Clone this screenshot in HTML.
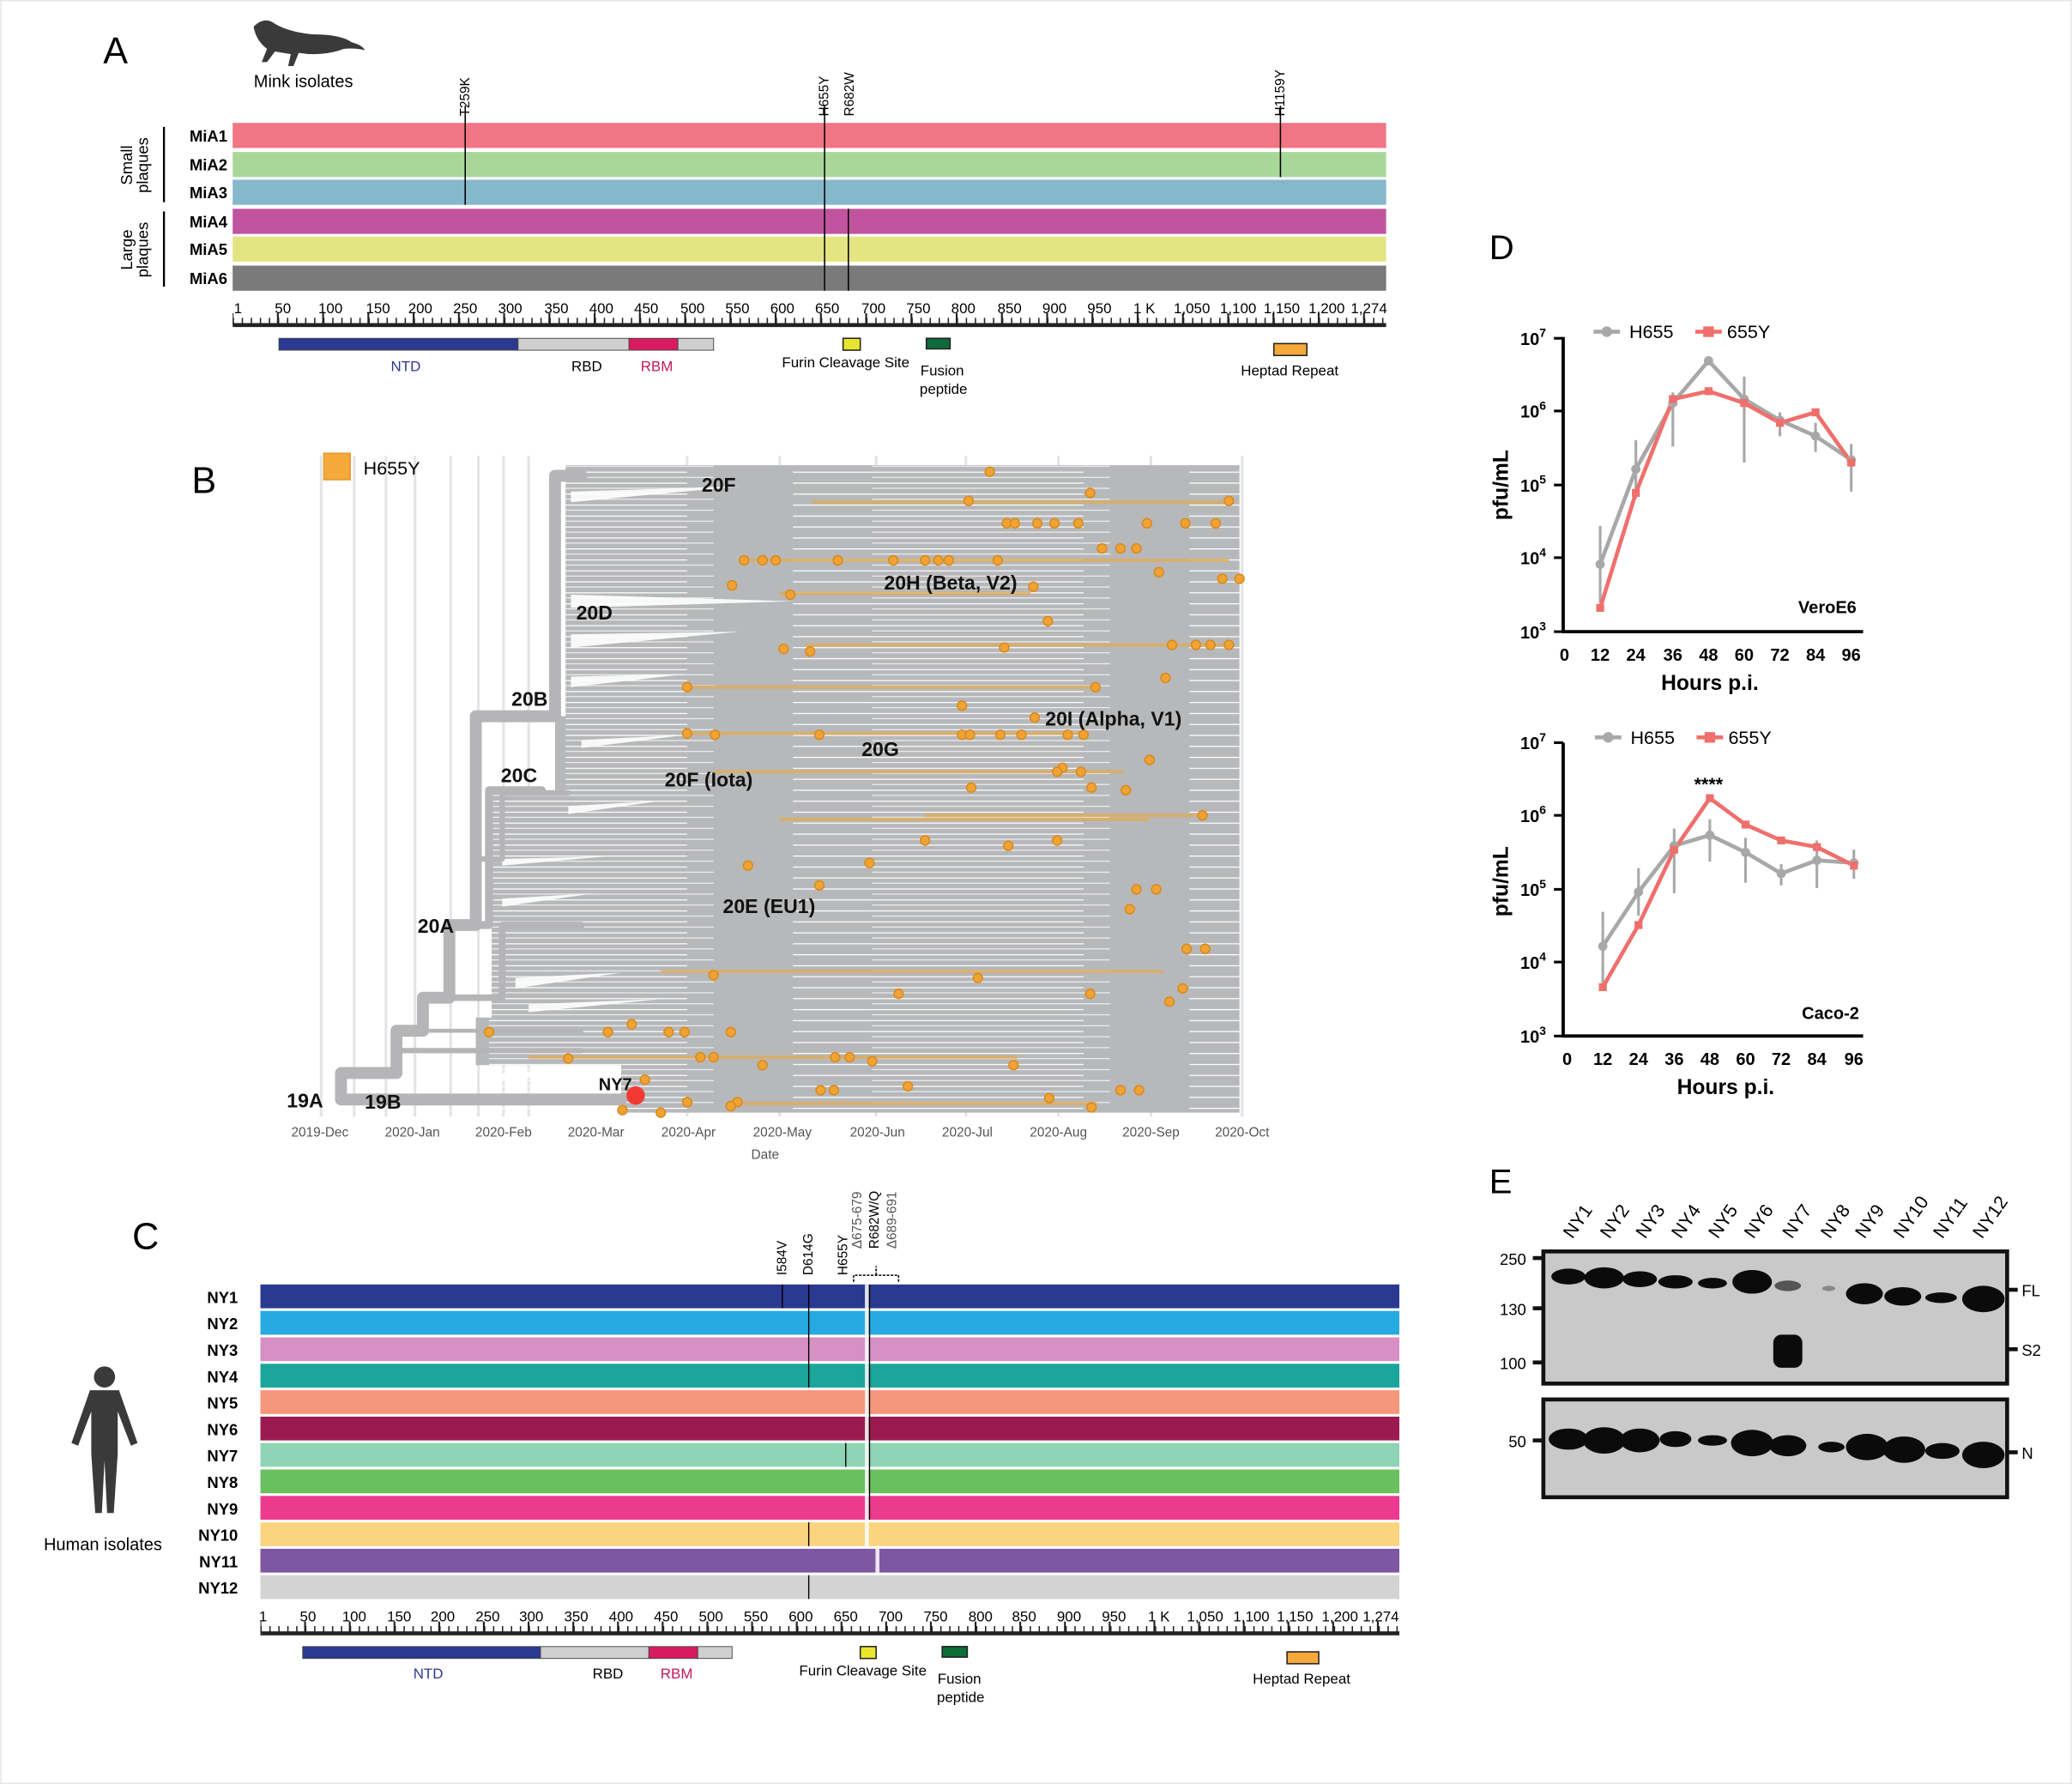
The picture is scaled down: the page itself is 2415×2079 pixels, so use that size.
<!DOCTYPE html>
<html><head><meta charset="utf-8"><style>html,body{margin:0;padding:0;background:#fff}svg{display:block}text{font-family:"Liberation Sans",sans-serif}</style></head><body>
<svg width="2415" height="2079" viewBox="0 0 1568 1350" xmlns="http://www.w3.org/2000/svg">
<defs>
<pattern id="wl" width="300" height="8.3" patternUnits="userSpaceOnUse"><rect x="0" y="0" width="220" height=".8" fill="#fff"/><rect x="60" y="4" width="180" height=".6" fill="#fff"/></pattern>
<linearGradient id="fade" x1="0" x2="1" y1="0" y2="0"><stop offset="0" stop-color="#fff" stop-opacity="1"/><stop offset="1" stop-color="#fff" stop-opacity="0"/></linearGradient>
</defs>
<rect width="1568" height="1350" fill="#fff"/>
<rect x="0.5" y="0.5" width="1567" height="1349" fill="none" stroke="#e6e6e6"/>

<!-- Panel A -->
<text x="78" y="48" font-size="28">A</text>
<path d="M192 20 q8 -8 16 -2 q10 6 28 8 q22 0 30 6 q8 2 10 6 q-8 -2 -16 -1 q-16 6 -34 3 l-4 10 l-4 0 l2 -9 l-12 -2 l-6 8 l-4 0 l4 -10 q-8 -6 -10 -16z" fill="#3a3a3a"/>
<text x="192" y="66" font-size="13">Mink isolates</text>
<g font-size="11">
<rect x="176" y="93" width="873" height="19" fill="#f07585"/>
<rect x="176" y="115" width="873" height="19" fill="#a9d79a"/>
<rect x="176" y="136" width="873" height="19" fill="#86b8cb"/>
<rect x="176" y="158" width="873" height="19" fill="#c1549e"/>
<rect x="176" y="179" width="873" height="19" fill="#e3e583"/>
<rect x="176" y="201" width="873" height="19" fill="#7a7a7a"/>
</g>
<g font-size="12" font-weight="bold" text-anchor="end">
<text x="172" y="107">MiA1</text><text x="172" y="129">MiA2</text><text x="172" y="150">MiA3</text>
<text x="172" y="172">MiA4</text><text x="172" y="193">MiA5</text><text x="172" y="215">MiA6</text>
</g>
<line x1="124" y1="96" x2="124" y2="153" stroke="#000" stroke-width="1.5"/>
<line x1="124" y1="160" x2="124" y2="217" stroke="#000" stroke-width="1.5"/>
<text transform="translate(100,125) rotate(-90)" font-size="12" text-anchor="middle">Small</text>
<text transform="translate(112,125) rotate(-90)" font-size="12" text-anchor="middle">plaques</text>
<text transform="translate(100,189) rotate(-90)" font-size="12" text-anchor="middle">Large</text>
<text transform="translate(112,189) rotate(-90)" font-size="12" text-anchor="middle">plaques</text>
<g stroke="#000" stroke-width="1">
<line x1="352" y1="80" x2="352" y2="155"/>
<line x1="624" y1="80" x2="624" y2="220"/>
<line x1="642" y1="158" x2="642" y2="220"/>
<line x1="969" y1="80" x2="969" y2="134"/>
</g>
<g font-size="10">
<text transform="translate(355,88) rotate(-90)">T259K</text>
<text transform="translate(627,88) rotate(-90)">H655Y</text>
<text transform="translate(646,88) rotate(-90)">R682W</text>
<text transform="translate(972,88) rotate(-90)">H1159Y</text>
</g>
<line x1="176" y1="246" x2="1049" y2="246" stroke="#222" stroke-width="3"/>
<line x1="176" y1="243" x2="1049" y2="243" stroke="#222" stroke-width="5" stroke-dasharray="1 5.85"/>
<line x1="176" y1="241" x2="1049" y2="241" stroke="#222" stroke-width="8" stroke-dasharray="1.4 32.85" stroke-dashoffset="-33.5"/>
<g font-size="11" text-anchor="middle">
<text x="180" y="237">1</text><text x="214" y="237">50</text><text x="250" y="237">100</text><text x="286" y="237">150</text><text x="318" y="237">200</text><text x="352" y="237">250</text><text x="386" y="237">300</text><text x="421" y="237">350</text><text x="455" y="237">400</text><text x="489" y="237">450</text><text x="524" y="237">500</text><text x="558" y="237">550</text><text x="592" y="237">600</text><text x="626" y="237">650</text><text x="661" y="237">700</text><text x="695" y="237">750</text><text x="729" y="237">800</text><text x="764" y="237">850</text><text x="798" y="237">900</text><text x="832" y="237">950</text><text x="866" y="237">1 K</text><text x="902" y="237">1,050</text><text x="937" y="237">1,100</text><text x="970" y="237">1,150</text><text x="1004" y="237">1,200</text><text x="1036" y="237">1,274</text>
</g>
<rect x="211" y="256" width="181" height="9" fill="#2b3990" stroke="#444" stroke-width=".6"/>
<rect x="392" y="256" width="84" height="9" fill="#cfcfcf" stroke="#444" stroke-width=".6"/>
<rect x="476" y="256" width="37" height="9" fill="#d81b60" stroke="#444" stroke-width=".6"/>
<rect x="513" y="256" width="27" height="9" fill="#cfcfcf" stroke="#444" stroke-width=".6"/>
<rect x="638" y="256" width="13" height="9" fill="#e9e52e" stroke="#222"/>
<rect x="701" y="256" width="18" height="8" fill="#0e6b3a" stroke="#222"/>
<rect x="964" y="260" width="25" height="9" fill="#f6a93b" stroke="#222"/>
<g font-size="11" text-anchor="middle">
<text x="307" y="281" fill="#2b3990">NTD</text><text x="444" y="281">RBD</text><text x="497" y="281" fill="#c2185b">RBM</text>
<text x="640" y="278">Furin Cleavage Site</text><text x="713" y="284">Fusion</text><text x="714" y="298">peptide</text><text x="976" y="284">Heptad Repeat</text>
</g>

<!-- Panel B -->
<text x="145" y="373" font-size="28">B</text>
<g stroke="#e4e4e4" stroke-width="2">
<line x1="243" y1="345" x2="243" y2="845"/><line x1="268" y1="345" x2="268" y2="845"/><line x1="292" y1="345" x2="292" y2="845"/><line x1="314" y1="345" x2="314" y2="845"/><line x1="341" y1="345" x2="341" y2="845"/><line x1="362" y1="345" x2="362" y2="845"/><line x1="381" y1="345" x2="381" y2="845"/><line x1="400" y1="345" x2="400" y2="845"/>
<line x1="520" y1="345" x2="520" y2="845"/><line x1="590" y1="345" x2="590" y2="845"/><line x1="663" y1="345" x2="663" y2="845"/><line x1="731" y1="345" x2="731" y2="845"/><line x1="801" y1="345" x2="801" y2="845"/><line x1="871" y1="345" x2="871" y2="845"/><line x1="940" y1="345" x2="940" y2="845"/>
</g>
<rect x="245" y="343" width="20" height="20" fill="#f6a93b" stroke="#e59a2a"/>
<text x="275" y="359" font-size="14">H655Y</text>
<path d="M428 352 L938 352 L938 842 L470 842 L470 806 L360 806 L360 770 L372 770 L372 600 L420 600 L420 542 L428 542 Z" fill="#b7b8ba"/>
<path d="M428 352 L938 352 L938 842 L370 842 L370 600 L428 600 Z" fill="url(#wl)" transform="translate(0,0)"/>
<g fill="#fff" opacity=".9">
<path d="M432 372 L560 368 L432 380 Z"/><path d="M432 450 L600 455 L432 460 Z"/><path d="M432 480 L560 478 L432 490 Z"/><path d="M432 512 L520 510 L432 520 Z"/><path d="M440 560 L520 556 L440 566 Z"/><path d="M430 610 L500 606 L430 616 Z"/><path d="M380 650 L460 648 L380 655 Z"/><path d="M380 680 L450 676 L380 686 Z"/><path d="M390 740 L470 736 L390 748 Z"/><path d="M400 760 L500 756 L400 766 Z"/><path d="M380 812 L470 808 L380 818 Z"/>
</g>
<g fill="none" stroke="#b5b5b7" stroke-linecap="round" stroke-linejoin="round">
<path d="M258 832 L258 812 L300 812 L300 780 L320 780 L320 755 L340 755 L340 700 L360 700 L360 542 L420 542 L420 360 L440 360" stroke-width="9"/>
<path d="M258 832 L470 832" stroke-width="9"/>
<path d="M360 700 L370 700 L370 598 L410 598" stroke-width="6"/>
<path d="M340 755 L380 755 L380 700 L440 700" stroke-width="5"/>
<path d="M300 795 L440 795" stroke-width="4"/>
<path d="M320 780 L440 780" stroke-width="3"/>
<path d="M360 650 L380 650 L380 600 L430 600" stroke-width="4"/>
</g>
<g stroke="#e0ac5c" stroke-width="2.5" opacity=".8">
<line x1="615" y1="380" x2="930" y2="380"/><line x1="560" y1="424" x2="930" y2="424"/><line x1="590" y1="449" x2="780" y2="449"/><line x1="610" y1="488" x2="930" y2="488"/><line x1="520" y1="520" x2="830" y2="520"/><line x1="520" y1="555" x2="820" y2="555"/><line x1="590" y1="620" x2="870" y2="620"/><line x1="540" y1="584" x2="850" y2="584"/><line x1="700" y1="617" x2="910" y2="617"/><line x1="500" y1="735" x2="880" y2="735"/><line x1="400" y1="800" x2="770" y2="800"/><line x1="550" y1="835" x2="830" y2="835"/>
</g>
<g fill="#f0a335" stroke="#d98a1e" stroke-width="1">
<circle cx="749" cy="357" r="3.5"/><circle cx="825" cy="373" r="3.5"/><circle cx="733" cy="379" r="3.5"/><circle cx="930" cy="379" r="3.5"/>
<circle cx="762" cy="396" r="3.5"/><circle cx="768" cy="396" r="3.5"/><circle cx="785" cy="396" r="3.5"/><circle cx="798" cy="396" r="3.5"/><circle cx="816" cy="396" r="3.5"/><circle cx="868" cy="396" r="3.5"/><circle cx="897" cy="396" r="3.5"/><circle cx="920" cy="396" r="3.5"/>
<circle cx="834" cy="415" r="3.5"/><circle cx="848" cy="415" r="3.5"/><circle cx="860" cy="415" r="3.5"/>
<circle cx="563" cy="424" r="3.5"/><circle cx="577" cy="424" r="3.5"/><circle cx="587" cy="424" r="3.5"/><circle cx="634" cy="424" r="3.5"/><circle cx="676" cy="424" r="3.5"/><circle cx="700" cy="424" r="3.5"/><circle cx="710" cy="424" r="3.5"/><circle cx="718" cy="424" r="3.5"/><circle cx="755" cy="424" r="3.5"/><circle cx="877" cy="433" r="3.5"/><circle cx="925" cy="438" r="3.5"/><circle cx="938" cy="438" r="3.5"/>
<circle cx="554" cy="443" r="3.5"/><circle cx="598" cy="450" r="3.5"/><circle cx="782" cy="444" r="3.5"/>
<circle cx="793" cy="470" r="3.5"/><circle cx="887" cy="488" r="3.5"/><circle cx="905" cy="488" r="3.5"/><circle cx="916" cy="488" r="3.5"/><circle cx="930" cy="488" r="3.5"/>
<circle cx="593" cy="491" r="3.5"/><circle cx="613" cy="493" r="3.5"/><circle cx="760" cy="490" r="3.5"/><circle cx="882" cy="513" r="3.5"/><circle cx="520" cy="520" r="3.5"/><circle cx="829" cy="520" r="3.5"/>
<circle cx="728" cy="534" r="3.5"/><circle cx="783" cy="543" r="3.5"/><circle cx="520" cy="555" r="3.5"/><circle cx="541" cy="556" r="3.5"/><circle cx="620" cy="556" r="3.5"/><circle cx="728" cy="556" r="3.5"/><circle cx="734" cy="556" r="3.5"/><circle cx="757" cy="556" r="3.5"/><circle cx="773" cy="556" r="3.5"/><circle cx="808" cy="556" r="3.5"/><circle cx="820" cy="556" r="3.5"/>
<circle cx="804" cy="581" r="3.5"/><circle cx="870" cy="575" r="3.5"/><circle cx="800" cy="584" r="3.5"/><circle cx="818" cy="584" r="3.5"/><circle cx="735" cy="596" r="3.5"/><circle cx="826" cy="596" r="3.5"/><circle cx="852" cy="598" r="3.5"/>
<circle cx="910" cy="617" r="3.5"/><circle cx="700" cy="636" r="3.5"/><circle cx="763" cy="640" r="3.5"/><circle cx="800" cy="636" r="3.5"/><circle cx="566" cy="655" r="3.5"/><circle cx="658" cy="653" r="3.5"/>
<circle cx="620" cy="670" r="3.5"/><circle cx="860" cy="673" r="3.5"/><circle cx="875" cy="673" r="3.5"/><circle cx="855" cy="688" r="3.5"/>
<circle cx="898" cy="718" r="3.5"/><circle cx="912" cy="718" r="3.5"/><circle cx="740" cy="740" r="3.5"/><circle cx="540" cy="738" r="3.5"/><circle cx="680" cy="752" r="3.5"/><circle cx="825" cy="752" r="3.5"/><circle cx="895" cy="748" r="3.5"/><circle cx="885" cy="758" r="3.5"/>
<circle cx="370" cy="781" r="3.5"/><circle cx="478" cy="775" r="3.5"/><circle cx="460" cy="781" r="3.5"/><circle cx="506" cy="781" r="3.5"/><circle cx="518" cy="781" r="3.5"/><circle cx="553" cy="781" r="3.5"/>
<circle cx="430" cy="801" r="3.5"/><circle cx="530" cy="800" r="3.5"/><circle cx="540" cy="800" r="3.5"/><circle cx="577" cy="806" r="3.5"/><circle cx="632" cy="800" r="3.5"/><circle cx="643" cy="800" r="3.5"/><circle cx="660" cy="803" r="3.5"/><circle cx="767" cy="806" r="3.5"/>
<circle cx="488" cy="817" r="3.5"/><circle cx="621" cy="825" r="3.5"/><circle cx="631" cy="825" r="3.5"/><circle cx="687" cy="822" r="3.5"/><circle cx="794" cy="831" r="3.5"/><circle cx="848" cy="825" r="3.5"/><circle cx="862" cy="825" r="3.5"/>
<circle cx="520" cy="834" r="3.5"/><circle cx="558" cy="834" r="3.5"/><circle cx="471" cy="840" r="3.5"/><circle cx="500" cy="842" r="3.5"/><circle cx="553" cy="837" r="3.5"/><circle cx="826" cy="838" r="3.5"/>
</g>
<circle cx="481" cy="829" r="7" fill="#f03a33"/>
<g font-size="15" font-weight="bold" fill="#111">
<text x="531" y="372">20F</text><text x="669" y="446">20H (Beta, V2)</text><text x="436" y="469">20D</text><text x="387" y="534">20B</text><text x="791" y="549">20I (Alpha, V1)</text><text x="652" y="572">20G</text><text x="379" y="592">20C</text><text x="503" y="595">20F (Iota)</text><text x="547" y="691">20E (EU1)</text><text x="316" y="706">20A</text><text x="453" y="825" font-size="13">NY7</text><text x="217" y="838">19A</text><text x="276" y="839">19B</text>
</g>
<g font-size="10" fill="#555" text-anchor="middle">
<text x="242" y="860">2019-Dec</text><text x="312" y="860">2020-Jan</text><text x="381" y="860">2020-Feb</text><text x="451" y="860">2020-Mar</text><text x="521" y="860">2020-Apr</text><text x="592" y="860">2020-May</text><text x="664" y="860">2020-Jun</text><text x="732" y="860">2020-Jul</text><text x="801" y="860">2020-Aug</text><text x="871" y="860">2020-Sep</text><text x="940" y="860">2020-Oct</text>
<text x="579" y="877">Date</text>
</g>

<!-- Panel C -->
<text x="100" y="945" font-size="28">C</text>
<g>
<rect x="197" y="972" width="862" height="18" fill="#2b3990"/>
<rect x="197" y="992" width="862" height="18" fill="#27aae1"/>
<rect x="197" y="1012" width="862" height="18" fill="#d690c4"/>
<rect x="197" y="1032" width="862" height="18" fill="#1aa69a"/>
<rect x="197" y="1052" width="862" height="18" fill="#f4977b"/>
<rect x="197" y="1072" width="862" height="18" fill="#9b1b50"/>
<rect x="197" y="1092" width="862" height="18" fill="#8fd4b4"/>
<rect x="197" y="1112" width="862" height="18" fill="#6abf5e"/>
<rect x="197" y="1132" width="862" height="18" fill="#ec3b8f"/>
<rect x="197" y="1152" width="862" height="18" fill="#fbd480"/>
<rect x="197" y="1172" width="862" height="18" fill="#7e57a3"/>
<rect x="197" y="1192" width="862" height="18" fill="#d3d3d3"/>
</g>
<g stroke="#fff" stroke-width="3" opacity=".85">
<line x1="656" y1="972" x2="656" y2="1170"/>
<line x1="664" y1="1172" x2="664" y2="1190"/>
</g>
<g stroke="#000" stroke-width=".9">
<line x1="592" y1="972" x2="592" y2="990"/>
<line x1="612" y1="972" x2="612" y2="1050"/><line x1="612" y1="1152" x2="612" y2="1170"/><line x1="612" y1="1192" x2="612" y2="1210"/>
<line x1="640" y1="1092" x2="640" y2="1110"/>
<line x1="658" y1="972" x2="658" y2="1150"/>
</g>
<g font-size="12" font-weight="bold" text-anchor="end">
<text x="180" y="986">NY1</text><text x="180" y="1006">NY2</text><text x="180" y="1026">NY3</text><text x="180" y="1046">NY4</text><text x="180" y="1066">NY5</text><text x="180" y="1086">NY6</text><text x="180" y="1106">NY7</text><text x="180" y="1126">NY8</text><text x="180" y="1146">NY9</text><text x="180" y="1166">NY10</text><text x="180" y="1186">NY11</text><text x="180" y="1206">NY12</text>
</g>
<g font-size="10">
<text transform="translate(595,965) rotate(-90)">I584V</text>
<text transform="translate(615,965) rotate(-90)">D614G</text>
<text transform="translate(641,965) rotate(-90)">H655Y</text>
<text transform="translate(652,945) rotate(-90)" fill="#555">Δ675-679</text>
<text transform="translate(665,945) rotate(-90)">R682W/Q</text>
<text transform="translate(678,945) rotate(-90)" fill="#555">Δ689-691</text>
</g>
<path d="M646 970 L646 965 L680 965 L680 970 M663 965 L663 958" stroke="#000" fill="none" stroke-dasharray="2 1"/>
<g fill="#3a3a3a">
<circle cx="79" cy="1042" r="8"/>
<path d="M68 1052 L90 1052 L104 1092 L99 1094 L89 1068 L89 1100 L86 1145 L81 1145 L79 1105 L77 1145 L72 1145 L69 1100 L69 1068 L59 1094 L54 1092 Z"/>
</g>
<text x="33" y="1173" font-size="13">Human isolates</text>
<line x1="197" y1="1236" x2="1059" y2="1236" stroke="#222" stroke-width="3"/>
<line x1="197" y1="1233" x2="1059" y2="1233" stroke="#222" stroke-width="5" stroke-dasharray="1 5.77"/>
<line x1="197" y1="1231" x2="1059" y2="1231" stroke="#222" stroke-width="8" stroke-dasharray="1.4 32.43" stroke-dashoffset="-33.1"/>
<g font-size="11" text-anchor="middle">
<text x="199" y="1227">1</text><text x="233" y="1227">50</text><text x="268" y="1227">100</text><text x="302" y="1227">150</text><text x="335" y="1227">200</text><text x="369" y="1227">250</text><text x="402" y="1227">300</text><text x="436" y="1227">350</text><text x="470" y="1227">400</text><text x="504" y="1227">450</text><text x="538" y="1227">500</text><text x="572" y="1227">550</text><text x="606" y="1227">600</text><text x="640" y="1227">650</text><text x="674" y="1227">700</text><text x="708" y="1227">750</text><text x="742" y="1227">800</text><text x="775" y="1227">850</text><text x="809" y="1227">900</text><text x="843" y="1227">950</text><text x="877" y="1227">1 K</text><text x="912" y="1227">1,050</text><text x="947" y="1227">1,100</text><text x="980" y="1227">1,150</text><text x="1014" y="1227">1,200</text><text x="1045" y="1227">1,274</text>
</g>
<rect x="229" y="1246" width="180" height="9" fill="#2b3990" stroke="#444" stroke-width=".6"/>
<rect x="409" y="1246" width="82" height="9" fill="#cfcfcf" stroke="#444" stroke-width=".6"/>
<rect x="491" y="1246" width="37" height="9" fill="#d81b60" stroke="#444" stroke-width=".6"/>
<rect x="528" y="1246" width="26" height="9" fill="#cfcfcf" stroke="#444" stroke-width=".6"/>
<rect x="651" y="1246" width="12" height="9" fill="#e9e52e" stroke="#222"/>
<rect x="713" y="1246" width="19" height="8" fill="#0e6b3a" stroke="#222"/>
<rect x="974" y="1250" width="24" height="9" fill="#f6a93b" stroke="#222"/>
<g font-size="11" text-anchor="middle">
<text x="324" y="1270" fill="#2b3990">NTD</text><text x="460" y="1270">RBD</text><text x="512" y="1270" fill="#c2185b">RBM</text>
<text x="653" y="1268">Furin Cleavage Site</text><text x="726" y="1274">Fusion</text><text x="727" y="1288">peptide</text><text x="985" y="1274">Heptad Repeat</text>
</g>

<!-- Panel D -->
<text x="1127" y="196" font-size="26">D</text>
<g>
<line x1="1183" y1="255" x2="1183" y2="479" stroke="#000" stroke-width="2.5"/>
<line x1="1182" y1="478" x2="1410" y2="478" stroke="#000" stroke-width="2.5"/>
<g stroke="#000" stroke-width="2"><line x1="1176" y1="256" x2="1183" y2="256"/><line x1="1176" y1="311" x2="1183" y2="311"/><line x1="1176" y1="367" x2="1183" y2="367"/><line x1="1176" y1="422" x2="1183" y2="422"/><line x1="1176" y1="478" x2="1183" y2="478"/></g>
<g font-size="13" font-weight="bold" text-anchor="end"><text x="1170" y="261">10<tspan font-size="9" dy="-6">7</tspan></text><text x="1170" y="316">10<tspan font-size="9" dy="-6">6</tspan></text><text x="1170" y="372">10<tspan font-size="9" dy="-6">5</tspan></text><text x="1170" y="427">10<tspan font-size="9" dy="-6">4</tspan></text><text x="1170" y="483">10<tspan font-size="9" dy="-6">3</tspan></text></g>
<g font-size="13" font-weight="bold" text-anchor="middle"><text x="1184" y="500">0</text><text x="1211" y="500">12</text><text x="1238" y="500">24</text><text x="1266" y="500">36</text><text x="1293" y="500">48</text><text x="1320" y="500">60</text><text x="1347" y="500">72</text><text x="1374" y="500">84</text><text x="1401" y="500">96</text></g>
<text x="1294" y="522" font-size="16" font-weight="bold" text-anchor="middle">Hours p.i.</text>
<text transform="translate(1141,367) rotate(-90)" font-size="16" font-weight="bold" text-anchor="middle">pfu/mL</text>
<text x="1405" y="464" font-size="13" font-weight="bold" text-anchor="end">VeroE6</text>
<g stroke="#a8a8a8" stroke-width="2" fill="none"><path d="M1211 398 V456 M1238 333 V377 M1266 297 V338 M1320 285 V350 M1347 312 V330 M1374 320 V342 M1401 336 V372"/></g>
<polyline points="1211,427 1238,355 1266,305 1293,273 1320,302 1347,318 1374,330 1401,348" fill="none" stroke="#a8a8a8" stroke-width="3"/>
<polyline points="1211,460 1238,373 1266,302 1293,296 1320,305 1347,320 1374,312 1401,350" fill="none" stroke="#ef6f6c" stroke-width="3"/>
<g fill="#a8a8a8"><circle cx="1211" cy="427" r="3.5"/><circle cx="1238" cy="355" r="3.5"/><circle cx="1266" cy="305" r="3.5"/><circle cx="1293" cy="273" r="3.5"/><circle cx="1320" cy="302" r="3.5"/><circle cx="1347" cy="318" r="3.5"/><circle cx="1374" cy="330" r="3.5"/><circle cx="1401" cy="348" r="3.5"/></g>
<g fill="#ef6f6c"><rect x="1208" y="457" width="6" height="6"/><rect x="1235" y="370" width="6" height="6"/><rect x="1263" y="299" width="6" height="6"/><rect x="1290" y="293" width="6" height="6"/><rect x="1317" y="302" width="6" height="6"/><rect x="1344" y="317" width="6" height="6"/><rect x="1371" y="309" width="6" height="6"/><rect x="1398" y="347" width="6" height="6"/></g>
<line x1="1206" y1="251" x2="1226" y2="251" stroke="#a8a8a8" stroke-width="3"/><circle cx="1216" cy="251" r="4" fill="#a8a8a8"/>
<text x="1233" y="256" font-size="14">H655</text>
<line x1="1283" y1="251" x2="1303" y2="251" stroke="#ef6f6c" stroke-width="3"/><rect x="1289" y="247" width="8" height="8" fill="#ef6f6c"/>
<text x="1307" y="256" font-size="14">655Y</text>
</g>
<g>
<line x1="1183" y1="562" x2="1183" y2="785" stroke="#000" stroke-width="2.5"/>
<line x1="1182" y1="784" x2="1410" y2="784" stroke="#000" stroke-width="2.5"/>
<g stroke="#000" stroke-width="2"><line x1="1176" y1="562" x2="1183" y2="562"/><line x1="1176" y1="617" x2="1183" y2="617"/><line x1="1176" y1="673" x2="1183" y2="673"/><line x1="1176" y1="728" x2="1183" y2="728"/><line x1="1176" y1="784" x2="1183" y2="784"/></g>
<g font-size="13" font-weight="bold" text-anchor="end"><text x="1170" y="567">10<tspan font-size="9" dy="-6">7</tspan></text><text x="1170" y="622">10<tspan font-size="9" dy="-6">6</tspan></text><text x="1170" y="678">10<tspan font-size="9" dy="-6">5</tspan></text><text x="1170" y="733">10<tspan font-size="9" dy="-6">4</tspan></text><text x="1170" y="789">10<tspan font-size="9" dy="-6">3</tspan></text></g>
<g font-size="13" font-weight="bold" text-anchor="middle"><text x="1186" y="806">0</text><text x="1213" y="806">12</text><text x="1240" y="806">24</text><text x="1267" y="806">36</text><text x="1294" y="806">48</text><text x="1321" y="806">60</text><text x="1348" y="806">72</text><text x="1375" y="806">84</text><text x="1403" y="806">96</text></g>
<text x="1306" y="828" font-size="16" font-weight="bold" text-anchor="middle">Hours p.i.</text>
<text transform="translate(1141,667) rotate(-90)" font-size="16" font-weight="bold" text-anchor="middle">pfu/mL</text>
<text x="1407" y="771" font-size="13" font-weight="bold" text-anchor="end">Caco-2</text>
<text x="1293" y="598" font-size="14" font-weight="bold" text-anchor="middle">****</text>
<g stroke="#a8a8a8" stroke-width="2" fill="none"><path d="M1213 690 V745 M1240 657 V693 M1267 627 V676 M1294 620 V652 M1321 634 V668 M1348 654 V670 M1375 636 V672 M1403 643 V665"/></g>
<polyline points="1213,716 1240,675 1267,640 1294,632 1321,645 1348,661 1375,651 1403,653" fill="none" stroke="#a8a8a8" stroke-width="3"/>
<polyline points="1213,747 1240,700 1267,643 1294,604 1321,624 1348,636 1375,641 1403,655" fill="none" stroke="#ef6f6c" stroke-width="3"/>
<g fill="#a8a8a8"><circle cx="1213" cy="716" r="3.5"/><circle cx="1240" cy="675" r="3.5"/><circle cx="1267" cy="640" r="3.5"/><circle cx="1294" cy="632" r="3.5"/><circle cx="1321" cy="645" r="3.5"/><circle cx="1348" cy="661" r="3.5"/><circle cx="1375" cy="651" r="3.5"/><circle cx="1403" cy="653" r="3.5"/></g>
<g fill="#ef6f6c"><rect x="1210" y="744" width="6" height="6"/><rect x="1237" y="697" width="6" height="6"/><rect x="1264" y="640" width="6" height="6"/><rect x="1291" y="601" width="6" height="6"/><rect x="1318" y="621" width="6" height="6"/><rect x="1345" y="633" width="6" height="6"/><rect x="1372" y="638" width="6" height="6"/><rect x="1400" y="652" width="6" height="6"/></g>
<line x1="1207" y1="558" x2="1227" y2="558" stroke="#a8a8a8" stroke-width="3"/><circle cx="1217" cy="558" r="4" fill="#a8a8a8"/>
<text x="1234" y="563" font-size="14">H655</text>
<line x1="1284" y1="558" x2="1304" y2="558" stroke="#ef6f6c" stroke-width="3"/><rect x="1290" y="554" width="8" height="8" fill="#ef6f6c"/>
<text x="1308" y="563" font-size="14">655Y</text>
</g>

<!-- Panel E -->
<text x="1127" y="903" font-size="26">E</text>
<g font-size="14" text-anchor="start">
<text transform="translate(1190,938) rotate(-55)">NY1</text><text transform="translate(1218,938) rotate(-55)">NY2</text><text transform="translate(1245,938) rotate(-55)">NY3</text><text transform="translate(1272,938) rotate(-55)">NY4</text><text transform="translate(1300,938) rotate(-55)">NY5</text><text transform="translate(1327,938) rotate(-55)">NY6</text><text transform="translate(1356,938) rotate(-55)">NY7</text><text transform="translate(1385,938) rotate(-55)">NY8</text><text transform="translate(1411,938) rotate(-55)">NY9</text><text transform="translate(1440,938) rotate(-55)">NY10</text><text transform="translate(1470,938) rotate(-55)">NY11</text><text transform="translate(1500,938) rotate(-55)">NY12</text>
</g>
<rect x="1168" y="947" width="351" height="100" fill="#c9c9c9" stroke="#111" stroke-width="3"/>
<rect x="1168" y="1059" width="351" height="74" fill="#c9c9c9" stroke="#111" stroke-width="3"/>
<g fill="#0b0b0b">
<ellipse cx="1187" cy="966" rx="13" ry="6"/><ellipse cx="1214" cy="967" rx="15" ry="8"/><ellipse cx="1241" cy="968" rx="13" ry="6"/><ellipse cx="1268" cy="970" rx="13" ry="5"/><ellipse cx="1296" cy="971" rx="11" ry="4"/><ellipse cx="1326" cy="970" rx="15" ry="9"/><ellipse cx="1353" cy="973" rx="10" ry="4" fill="#555"/><ellipse cx="1384" cy="975" rx="5" ry="2" fill="#888"/><ellipse cx="1411" cy="979" rx="14" ry="8"/><ellipse cx="1440" cy="981" rx="14" ry="7"/><ellipse cx="1469" cy="982" rx="12" ry="4"/><ellipse cx="1501" cy="983" rx="16" ry="10"/>
<rect x="1342" y="1010" width="22" height="25" rx="6"/>
<ellipse cx="1187" cy="1089" rx="15" ry="8"/><ellipse cx="1214" cy="1090" rx="16" ry="10"/><ellipse cx="1241" cy="1090" rx="15" ry="9"/><ellipse cx="1268" cy="1089" rx="12" ry="6"/><ellipse cx="1296" cy="1090" rx="11" ry="4"/><ellipse cx="1326" cy="1092" rx="16" ry="10"/><ellipse cx="1353" cy="1094" rx="14" ry="8"/><ellipse cx="1386" cy="1095" rx="10" ry="4"/><ellipse cx="1413" cy="1095" rx="16" ry="10"/><ellipse cx="1441" cy="1097" rx="16" ry="10"/><ellipse cx="1470" cy="1098" rx="13" ry="6"/><ellipse cx="1501" cy="1101" rx="16" ry="10"/>
</g>
<g stroke="#111" stroke-width="3">
<line x1="1160" y1="952" x2="1168" y2="952"/><line x1="1160" y1="990" x2="1168" y2="990"/><line x1="1160" y1="1031" x2="1168" y2="1031"/><line x1="1160" y1="1090" x2="1168" y2="1090"/>
<line x1="1519" y1="976" x2="1527" y2="976"/><line x1="1519" y1="1021" x2="1527" y2="1021"/><line x1="1519" y1="1099" x2="1527" y2="1099"/>
</g>
<g font-size="12" text-anchor="end"><text x="1155" y="957">250</text><text x="1155" y="995">130</text><text x="1155" y="1036">100</text><text x="1155" y="1095">50</text></g>
<g font-size="12"><text x="1530" y="981">FL</text><text x="1530" y="1026">S2</text><text x="1530" y="1104">N</text></g>
</svg>
</body></html>
